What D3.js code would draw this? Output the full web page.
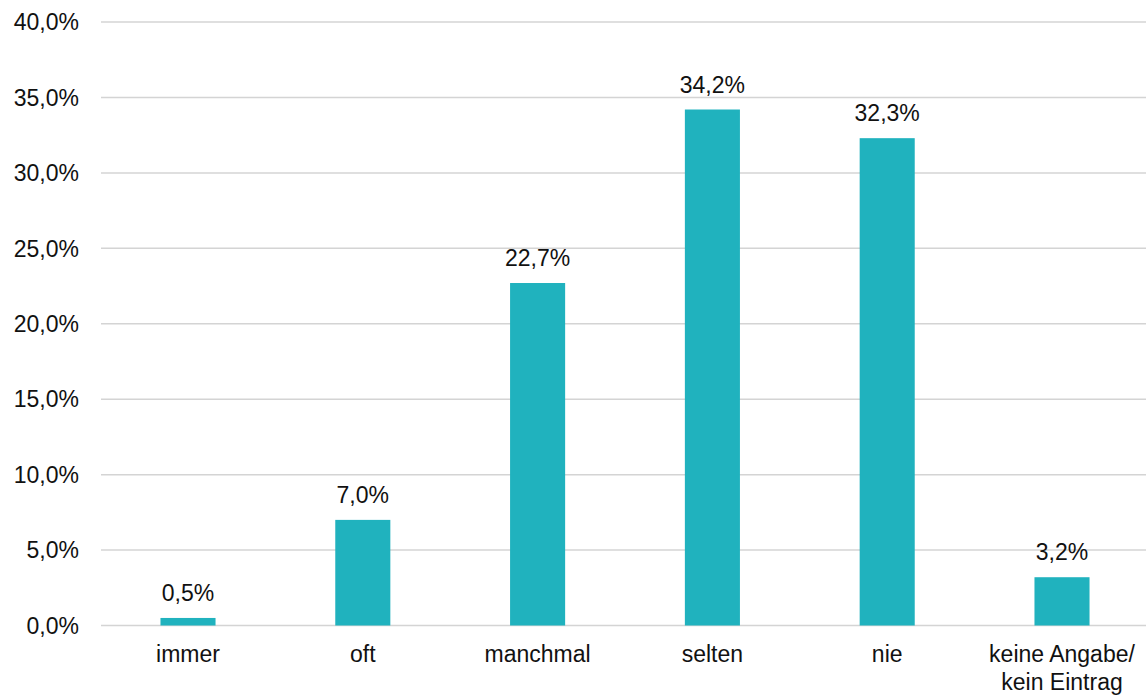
<!DOCTYPE html>
<html><head><meta charset="utf-8">
<script src="https://cdn.jsdelivr.net/npm/d3@7"></script>
<style>body{margin:0;background:#fff}svg{display:block}text{font-family:"Liberation Sans",Arial,sans-serif;fill:#111}</style>
</head><body><svg id="c" width="1146" height="695"></svg>
<script>
const categories = ["immer","oft","manchmal","selten","nie","keine Angabe/\nkein Eintrag"];
const values = [0.5, 7.0, 22.7, 34.2, 32.3, 3.2];
const yTicks = [0,5,10,15,20,25,30,35,40];

const svg = d3.select("#c");
const x = d3.scaleBand().domain(categories).range([100.6, 1149.4]).paddingInner(0.685).paddingOuter(0.3425);
const y = d3.scaleLinear().domain([0,40]).range([625.5, 22]);
const fmt = v => d3.format(".1f")(v).replace(".", ",") + "%";
const fs = 23;

svg.append("g").selectAll("line").data(yTicks).join("line")
  .attr("x1", 101).attr("x2", 1146)
  .attr("y1", d => y(d)).attr("y2", d => y(d))
  .attr("stroke", "#d4d4d4").attr("stroke-width", 1.5);

svg.append("g").selectAll("text").data(yTicks).join("text")
  .attr("x", 79).attr("y", d => y(d)).attr("dy", "0.36em")
  .attr("text-anchor", "end").attr("font-size", fs)
  .text(d => fmt(d));

svg.append("g").selectAll("rect").data(values).join("rect")
  .attr("x", (d,i) => x(categories[i])).attr("width", x.bandwidth())
  .attr("y", d => y(d)).attr("height", d => y(0) - y(d))
  .attr("fill", "#20b2be");

svg.append("g").selectAll("text").data(values).join("text")
  .attr("x", (d,i) => x(categories[i]) + x.bandwidth()/2)
  .attr("y", d => y(d) - 17).attr("text-anchor", "middle").attr("font-size", fs)
  .text(d => fmt(d));

const xl = svg.append("g").selectAll("text").data(categories).join("text")
  .attr("x", d => x(d) + x.bandwidth()/2).attr("y", 662)
  .attr("text-anchor", "middle").attr("font-size", fs);
xl.each(function(d){
  const t = d3.select(this);
  d.split("\n").forEach((s,k) => t.append("tspan").attr("x", x(d) + x.bandwidth()/2).attr("dy", k ? 28 : 0).text(s));
});
</script></body></html>
